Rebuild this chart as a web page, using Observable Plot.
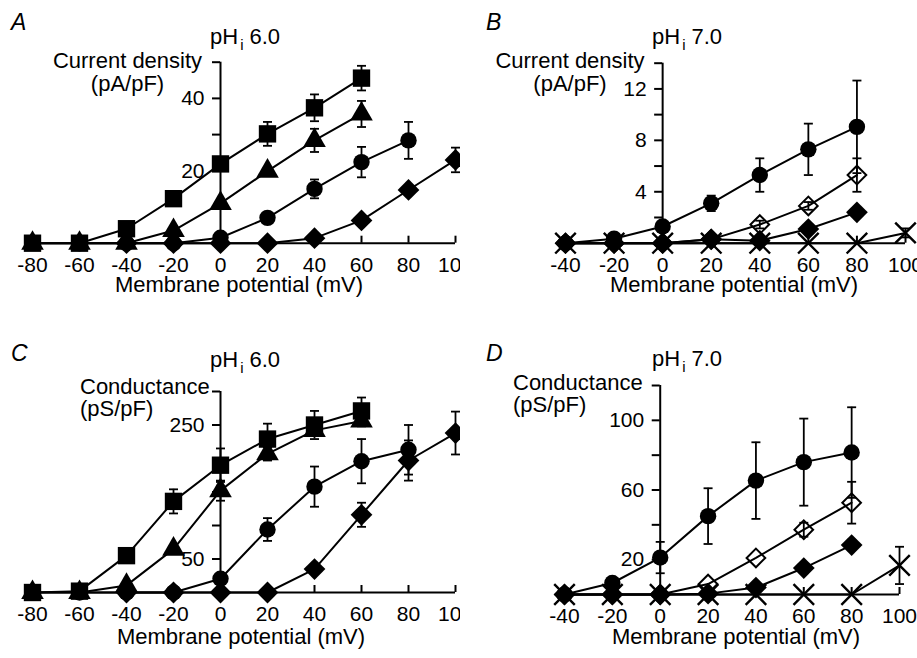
<!DOCTYPE html>
<html><head><meta charset="utf-8">
<script src="https://cdn.jsdelivr.net/npm/d3@7"></script>
<script src="https://cdn.jsdelivr.net/npm/@observablehq/plot@0.6"></script>
<style>
html,body{margin:0;padding:0;background:#fff;}
#page{position:relative;width:917px;height:658px;overflow:hidden;font-family:"Liberation Sans",Arial,Helvetica,sans-serif;color:#000;}
.panel{position:absolute;overflow:hidden;}
.lbl{position:absolute;white-space:nowrap;line-height:1;}
.sub{font-size:15px;position:relative;top:6px;margin:0 6px 0 2px;}
</style></head><body><div id="page"></div>
<script>
// ---------- ticks ----------
const xTicksAC = [-80,-60,-40,-20,0,20,40,60,80,100];
const xTicksBD = [-40,-20,0,20,40,60,80,100];
const yTicksA = [10,20,30,40,50], yLabelsA = [20,40];
const yTicksB = [2,4,6,8,10,12,14], yLabelsB = [4,8,12];
const yTicksC = [50,100,150,200,250,300], yLabelsC = [50,250];
const yTicksD = [20,40,60,80,100,120], yLabelsD = [20,60,100];

// ---------- Panel A: current density, pHi 6.0 ----------
const aSqX  = [-80,-60,-40,-20,0,20,40,60];
const aSqY  = [0,0,4.0,12.3,21.9,30.2,37.4,45.6];
const aSqE  = [0,0,0,0,0,3.3,3.7,3.4];
const aTriX = [-80,-60,-40,-20,0,20,40,60];
const aTriY = [0,0,0,3.5,11.0,19.9,28.4,35.7];
const aTriE = [0,0,0,0,0,0,3.2,3.6];
const aCirX = [-60,-40,-20,0,20,40,60,80];
const aCirY = [0,0,0,1.5,7.0,15.0,22.4,28.4];
const aCirE = [0,0,0,0,0,2.6,4.2,5.1];
const aDiaX = [-40,-20,0,20,40,60,80,100];
const aDiaY = [0,0,0,0,1.4,6.3,14.7,23.0];
const aDiaE = [0,0,0,0,0,0,0,3.4];

// ---------- Panel B: current density, pHi 7.0 ----------
const bCirX  = [-40,-20,0,20,40,60,80];
const bCirY  = [0,0.35,1.3,3.1,5.3,7.3,9.05];
const bCirE  = [0,0,0,0.6,1.3,2.0,3.6];
const bOpenX = [-40,-20,0,20,40,60,80];
const bOpenY = [0,0,0,0.3,1.45,2.9,5.3];
const bOpenE = [0,0,0,0,0.3,0.3,1.3];
const bDiaX  = [-40,-20,0,20,40,60,80];
const bDiaY  = [0,0,0,0.3,0.2,1.1,2.4];
const bDiaE  = [0,0,0,0,0,0,0.2];
const bCrX   = [-40,-20,0,20,40,60,80,100];
const bCrY   = [0,0,0,0,0,0,0,0.8];
const bCrE   = [0,0,0,0,0,0,0,0.35];

// ---------- Panel C: conductance, pHi 6.0 ----------
const cSqX  = [-80,-60,-40,-20,0,20,40,60];
const cSqY  = [0,2,55,136,190,229,250,271];
const cSqE  = [0,0,0,18,25,23,21,20];
const cTriX = [-80,-60,-40,-20,0,20,40,60];
const cTriY = [0,0,10.6,64.7,152,207,242,256];
const cTriE = [0,0,0,0,15,10,8,8];
const cCirX = [-60,-40,-20,0,20,40,60,80];
const cCirY = [0,0,0,20.5,94,158,196,213];
const cCirE = [0,0,0,0,17,30,33,37];
const cDiaX = [-40,-20,0,20,40,60,80,100];
const cDiaY = [0,0,0,0,35,116,197,238];
const cDiaE = [0,0,0,0,0,18,30,32];

// ---------- Panel D: conductance, pHi 7.0 ----------
const dCirX  = [-40,-20,0,20,40,60,80];
const dCirY  = [0,6.6,21.2,45,65.4,76,81.5];
const dCirE  = [0,0,9,16,22,25,26];
const dOpenX = [-40,-20,0,20,40,60,80];
const dOpenY = [0,0,0,6,21,37.2,52.7];
const dOpenE = [0,0,0,0,0,4,12];
const dDiaX  = [-40,-20,0,20,40,60,80];
const dDiaY  = [0,0,0,0.5,4,15.2,28.4];
const dDiaE  = [0,0,0,0,0,0,3];
const dCrX   = [-40,-20,0,20,40,60,80,100];
const dCrY   = [0,0,0,0,0,0,0,16.7];
const dCrE   = [0,0,0,0,0,0,0,10.7];

const FONT = '"Liberation Sans", Arial, Helvetica, sans-serif';
const page = document.getElementById("page");

const sym = {
  square:  {symbol: "square",   r: 9.8, fill: "black", sw: 0},
  triangle:{symbol: "triangle", r: 8.4, fill: "black", sw: 0},
  circle:  {symbol: "circle",   r: 8.2, fill: "black", sw: 0},
  diamond: {symbol: "diamond2", r: 9.8, fill: "black", sw: 0},
  open:    {symbol: "diamond2", r: 8.4, fill: "none",  sw: 2},
  cross:   {symbol: "times",    r: 9.4, fill: "none",  sw: 2.4}
};
const capSymbol = {draw(ctx) { ctx.moveTo(-4.5, 0); ctx.lineTo(4.5, 0); }};

function rows(name, X, Y, E) { return X.map((x, i) => ({series: name, x, y: Y[i], e: E[i]})); }

function panel(cfg) {
  const {left, top, w, h, xDomain, xRange, yDomain, yRange, xTicks, yTicks, yLabels, series} = cfg;
  const xs = d3.scaleLinear(xDomain, xRange);
  const all = series.flatMap(s => rows(s.name, s.X, s.Y, s.E));
  const err = all.filter(d => d.e > 0);
  const marks = [
    Plot.ruleY([{y: yDomain[0], x1: xTicks[0], x2: xTicks[xTicks.length - 1]}], {y: "y", x1: "x1", x2: "x2", stroke: "black", strokeWidth: 2}),
    Plot.ruleX([{x: 0, y1: yDomain[0], y2: yDomain[1]}], {x: "x", y1: "y1", y2: "y2", stroke: "black", strokeWidth: 2}),
    Plot.axisX({ticks: xTicks, tickSize: -7, tickPadding: 21, strokeWidth: 2, tickFormat: d => String(d), label: null}),
    Plot.axisY({ticks: yTicks, tickSize: 8, tickPadding: 8, strokeWidth: 2, tickFormat: d => yLabels.includes(d) ? String(d) : "", label: null}),
    Plot.line(all, {x: "x", y: "y", z: "series", stroke: "black", strokeWidth: 2}),
    Plot.ruleX(err, {x: "x", y1: d => d.y - d.e, y2: d => d.y + d.e, stroke: "black", strokeWidth: 1.8}),
    Plot.dot(err, {x: "x", y: d => d.y + d.e, symbol: capSymbol, stroke: "black", strokeWidth: 1.8}),
    Plot.dot(err, {x: "x", y: d => d.y - d.e, symbol: capSymbol, stroke: "black", strokeWidth: 1.8}),
    ...series.map(s => {
      const st = sym[s.kind];
      return Plot.dot(rows(s.name, s.X, s.Y, s.E), {x: "x", y: "y", symbol: st.symbol, r: st.r,
        fill: st.fill, stroke: st.sw ? "black" : "none", strokeWidth: st.sw});
    })
  ];
  const chart = Plot.plot({
    width: w, height: h,
    marginLeft: xs(0), marginRight: w - xRange[1], marginTop: yRange[1], marginBottom: h - yRange[0],
    x: {domain: xDomain, range: xRange},
    y: {domain: yDomain, range: yRange},
    style: {fontFamily: FONT, fontSize: "21px", background: "transparent", color: "black", overflow: "visible", maxWidth: "none"},
    marks
  });
  const div = document.createElement("div");
  div.className = "panel";
  Object.assign(div.style, {left: left + "px", top: top + "px", width: w + "px", height: h + "px"});
  div.appendChild(chart);
  page.appendChild(div);
}

panel({left: 0, top: 0, w: 460, h: 320, xDomain: [-80, 100], xRange: [32, 455], yDomain: [0, 50], yRange: [242.7, 61.7],
  xTicks: xTicksAC, yTicks: yTicksA, yLabels: yLabelsA, series: [
    {name: "sq", kind: "square", X: aSqX, Y: aSqY, E: aSqE},
    {name: "tri", kind: "triangle", X: aTriX, Y: aTriY, E: aTriE},
    {name: "cir", kind: "circle", X: aCirX, Y: aCirY, E: aCirE},
    {name: "dia", kind: "diamond", X: aDiaX, Y: aDiaY, E: aDiaE}]});
panel({left: 460, top: 0, w: 457, h: 320, xDomain: [-40, 100], xRange: [105, 445], yDomain: [0, 14], yRange: [242.7, 62.7],
  xTicks: xTicksBD, yTicks: yTicksB, yLabels: yLabelsB, series: [
    {name: "cr", kind: "cross", X: bCrX, Y: bCrY, E: bCrE},
    {name: "dia", kind: "diamond", X: bDiaX, Y: bDiaY, E: bDiaE},
    {name: "open", kind: "open", X: bOpenX, Y: bOpenY, E: bOpenE},
    {name: "cir", kind: "circle", X: bCirX, Y: bCirY, E: bCirE}]});
panel({left: 0, top: 320, w: 460, h: 338, xDomain: [-80, 100], xRange: [32, 455], yDomain: [0, 300], yRange: [272, 71],
  xTicks: xTicksAC, yTicks: yTicksC, yLabels: yLabelsC, series: [
    {name: "sq", kind: "square", X: cSqX, Y: cSqY, E: cSqE},
    {name: "tri", kind: "triangle", X: cTriX, Y: cTriY, E: cTriE},
    {name: "cir", kind: "circle", X: cCirX, Y: cCirY, E: cCirE},
    {name: "dia", kind: "diamond", X: cDiaX, Y: cDiaY, E: cDiaE}]});
panel({left: 460, top: 320, w: 457, h: 338, xDomain: [-40, 100], xRange: [104, 439], yDomain: [0, 120], yRange: [274, 65],
  xTicks: xTicksBD, yTicks: yTicksD, yLabels: yLabelsD, series: [
    {name: "cr", kind: "cross", X: dCrX, Y: dCrY, E: dCrE},
    {name: "dia", kind: "diamond", X: dDiaX, Y: dDiaY, E: dDiaE},
    {name: "open", kind: "open", X: dOpenX, Y: dOpenY, E: dOpenE},
    {name: "cir", kind: "circle", X: dCirX, Y: dCirY, E: dCirE}]});

// ---------- text labels ----------
function label(html, x, baseline, {size = 22, anchor = "start", italic = false} = {}) {
  const el = document.createElement("div");
  el.className = "lbl";
  el.innerHTML = html;
  el.style.fontSize = size + "px";
  el.style.top = (baseline - 0.8465 * size) + "px";
  el.style.left = x + "px";
  if (italic) el.style.fontStyle = "italic";
  if (anchor === "middle") el.style.transform = "translateX(-50%)";
  if (anchor === "end") el.style.transform = "translateX(-100%)";
  page.appendChild(el);
}
const panelLetters = ["A", "B", "C", "D"];
const titles = ["pH<span class=sub>i</span>6.0", "pH<span class=sub>i</span>7.0", "pH<span class=sub>i</span>6.0", "pH<span class=sub>i</span>7.0"];
const xLabel = "Membrane potential (mV)";
const yLabel1 = ["Current density", "Current density", "Conductance", "Conductance"];
const yLabel2 = ["(pA/pF)", "(pA/pF)", "(pS/pF)", "(pS/pF)"];

label(panelLetters[0], 11, 30, {size: 23, italic: true});
label(panelLetters[1], 486, 30, {size: 23, italic: true});
label(panelLetters[2], 11, 361, {size: 23, italic: true});
label(panelLetters[3], 486, 361, {size: 23, italic: true});

label(titles[0], 210, 45);
label(titles[1], 652, 45);
label(titles[2], 210, 368);
label(titles[3], 652, 367);

label(yLabel1[0], 127.5, 69, {anchor: "middle"});
label(yLabel2[0], 127.5, 92, {anchor: "middle"});
label(yLabel1[1], 570, 69, {anchor: "middle"});
label(yLabel2[1], 570, 92, {anchor: "middle"});
label(yLabel1[2], 80, 395);
label(yLabel2[2], 80, 417);
label(yLabel1[3], 513, 391);
label(yLabel2[3], 513, 413);

label(xLabel, 239, 293, {anchor: "middle"});
label(xLabel, 734, 293, {anchor: "middle"});
label(xLabel, 241, 645, {anchor: "middle"});
label(xLabel, 736, 645, {anchor: "middle"});
</script></body></html>
